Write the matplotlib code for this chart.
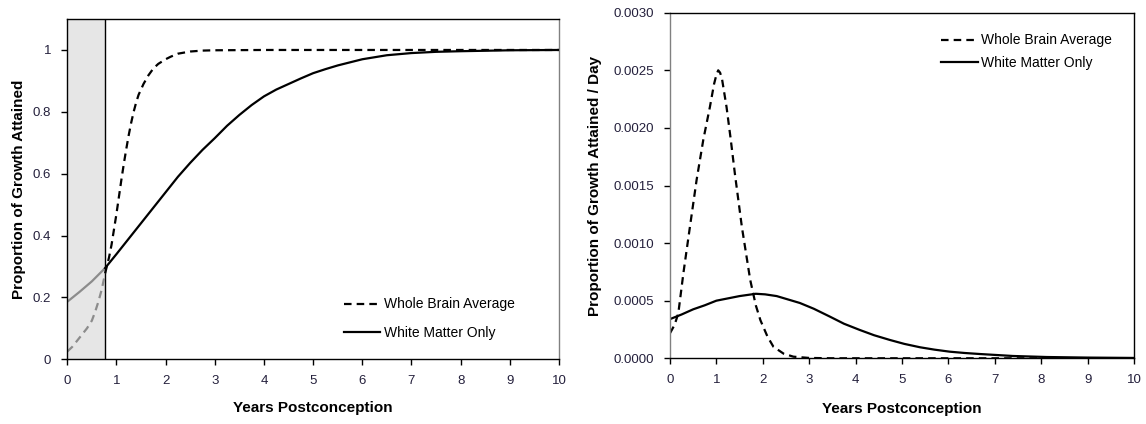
import matplotlib
matplotlib.use("Agg")
import matplotlib.pyplot as plt
import numpy as np

# ---------------- data ----------------
birth_year = 0.77  # birth (end of shaded prenatal period)

# Left panel: cumulative proportion of growth attained
whole_x = [0, 0.1, 0.2, 0.3, 0.4, 0.5, 0.57, 0.63, 0.7, 0.77, 0.85, 0.9, 0.95, 1.0, 1.05,
           1.1, 1.15, 1.2, 1.25, 1.3, 1.35, 1.4, 1.45, 1.55, 1.65, 1.75, 1.85, 2.0, 2.1,
           2.25, 2.5, 2.75, 3.0, 4.0, 5.0, 6.0, 7.0, 8.0, 9.0, 10.0]
whole_y = [0.025, 0.04, 0.06, 0.08, 0.10, 0.125, 0.155, 0.185, 0.225, 0.278, 0.33, 0.37,
           0.42, 0.47, 0.525, 0.58, 0.632, 0.68, 0.725, 0.765, 0.80, 0.83, 0.855, 0.89,
           0.918, 0.94, 0.955, 0.97, 0.978, 0.988, 0.995, 0.998, 0.999, 1.0, 1.0, 1.0,
           1.0, 1.0, 1.0, 1.0]

white_x = [0, 0.25, 0.5, 0.77, 1.0, 1.25, 1.5, 1.75, 2.0, 2.25, 2.5, 2.75, 3.0, 3.25,
           3.5, 3.75, 4.0, 4.25, 4.5, 4.75, 5.0, 5.25, 5.5, 6.0, 6.5, 7.0, 7.5, 8.0,
           9.0, 10.0]
white_y = [0.186, 0.218, 0.252, 0.295, 0.34, 0.39, 0.44, 0.49, 0.54, 0.59, 0.635, 0.677,
           0.715, 0.755, 0.79, 0.822, 0.85, 0.872, 0.89, 0.908, 0.925, 0.938, 0.95, 0.97,
           0.983, 0.99, 0.994, 0.996, 0.999, 1.0]

# Right panel: proportion of growth attained per day
rate_whole_x = [0, 0.1, 0.18, 0.29, 0.43, 0.575, 0.72, 0.86, 0.95, 1.0, 1.04, 1.08, 1.12,
                1.22, 1.31, 1.40, 1.55, 1.73, 1.85, 1.95, 2.1, 2.23, 2.45, 2.66, 3.0, 3.5,
                10.0]
rate_whole_y = [0.000217, 0.00029, 0.00039, 0.00074, 0.00114, 0.00155, 0.0019, 0.00218,
                0.00238, 0.00246, 0.0025, 0.00248, 0.00243, 0.00218, 0.0019, 0.0016,
                0.00114, 0.00068, 0.00046, 0.00033, 0.00019, 0.0001, 0.00004, 0.000014,
                0.000003, 0.0, 0.0]

rate_white_x = [0, 0.25, 0.5, 0.75, 1.0, 1.25, 1.5, 1.85, 2.05, 2.3, 2.55, 2.8, 3.1,
                3.45, 3.75, 4.09, 4.4, 4.74, 5.05, 5.39, 5.7, 6.03, 6.35, 6.68, 7.39,
                8.12, 9.0, 10.0]
rate_white_y = [0.00034, 0.00038, 0.000425, 0.00046, 0.0005, 0.00052, 0.00054, 0.00056,
                0.000555, 0.00054, 0.00051, 0.00048, 0.00043, 0.000361, 0.0003,
                0.000246, 0.0002, 0.000159, 0.000125, 0.0000955, 0.000075, 0.0000573,
                0.000046, 0.000037, 0.00002, 0.000011, 0.000006, 0.000003]

x_ticks = list(range(0, 11))
left_yticks = [0, 0.2, 0.4, 0.6, 0.8, 1.0]
left_yticklabels = ["0", "0.2", "0.4", "0.6", "0.8", "1"]
right_yticks = [0, 0.0005, 0.0010, 0.0015, 0.0020, 0.0025, 0.0030]

series_names = ["Whole Brain Average", "White Matter Only"]
xlabel = "Years Postconception"
left_ylabel = "Proportion of Growth Attained"
right_ylabel = "Proportion of Growth Attained / Day"

# ---------------- style ----------------
plt.rcParams['font.family'] = ['Liberation Sans', 'DejaVu Sans']
tick_color = '#24203c'
gray_line = '#8c8c8c'
LW = 1.6
DASH = (3.4, 2.3)

fig = plt.figure(figsize=(11.46, 4.24), dpi=100)
axL = fig.add_axes([0.0587, 0.1526, 0.4291, 0.8025])
axR = fig.add_axes([0.5846, 0.155, 0.4049, 0.815])

# ----- left panel -----
axL.axvspan(0, birth_year, color='#e6e6e6', zorder=0, lw=0)
axL.axvline(birth_year, color='black', lw=1.0, zorder=1)

wx = np.array(whole_x); wy = np.array(whole_y)
mx = np.array(white_x); my = np.array(white_y)
pre_w = wx <= birth_year; post_w = wx >= birth_year
pre_m = mx <= birth_year; post_m = mx >= birth_year

axL.plot(wx[pre_w], wy[pre_w], color=gray_line, lw=LW, dashes=DASH, zorder=2)
axL.plot(mx[pre_m], my[pre_m], color=gray_line, lw=LW, zorder=2)
hw, = axL.plot(wx[post_w], wy[post_w], color='black', lw=LW, dashes=DASH, zorder=3,
               label=series_names[0])
hm, = axL.plot(mx[post_m], my[post_m], color='black', lw=LW, zorder=3,
               label=series_names[1])

axL.set_xlim(0, 10)
axL.set_ylim(0, 1.1)
axL.set_xticks(x_ticks)
axL.set_yticks(left_yticks)
axL.set_yticklabels(left_yticklabels)
axL.set_xlabel(xlabel, fontsize=11, fontweight='bold', labelpad=10)
axL.set_ylabel(left_ylabel, fontsize=11, fontweight='bold', labelpad=5)
axL.spines['right'].set_color('#808080')
axL.legend(handles=[hw, hm], loc='upper left', bbox_to_anchor=(0.563, 0.182),
           frameon=False, fontsize=10, handlelength=2.6, handletextpad=0.25,
           labelspacing=1.05, borderpad=0, borderaxespad=0)

# ----- right panel -----
hrw, = axR.plot(rate_whole_x, rate_whole_y, color='black', lw=LW, dashes=DASH,
                label=series_names[0])
hrm, = axR.plot(rate_white_x, rate_white_y, color='black', lw=LW,
                label=series_names[1])
axR.set_xlim(0, 10)
axR.set_ylim(0, 0.003)
axR.set_xticks(x_ticks)
axR.set_yticks(right_yticks)
axR.set_yticklabels([f"{v:.4f}" for v in right_yticks])
axR.set_xlabel(xlabel, fontsize=11, fontweight='bold', labelpad=11)
axR.set_ylabel(right_ylabel, fontsize=11, fontweight='bold', labelpad=8)
axR.spines['left'].set_color('#808080')
axR.legend(handles=[hrw, hrm], loc='upper left', bbox_to_anchor=(0.585, 0.94),
           frameon=False, fontsize=10, handlelength=2.6, handletextpad=0.25,
           labelspacing=0.6, borderpad=0, borderaxespad=0)

for ax in (axL, axR):
    ax.tick_params(axis='both', direction='out', length=4.5, width=1,
                   labelsize=9.5, labelcolor=tick_color, pad=7)
    for s in ax.spines.values():
        s.set_linewidth(1.0)

fig.savefig("out.png", dpi=100)
